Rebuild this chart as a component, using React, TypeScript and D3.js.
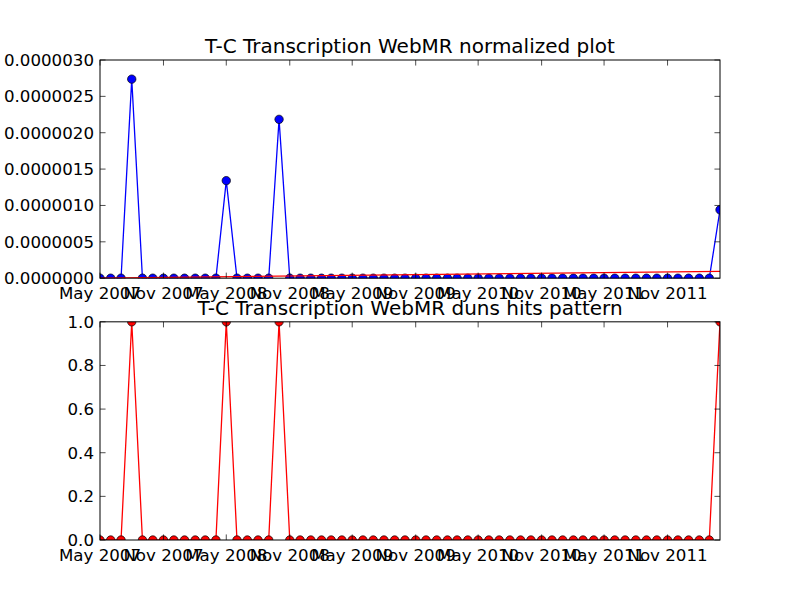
import * as d3 from "d3";

// monthly samples, May 2007 .. Apr 2012
const months = [
  "2007-05", "2007-06", "2007-07", "2007-08", "2007-09", "2007-10", "2007-11", "2007-12",
  "2008-01", "2008-02", "2008-03", "2008-04", "2008-05", "2008-06", "2008-07", "2008-08",
  "2008-09", "2008-10", "2008-11", "2008-12", "2009-01", "2009-02", "2009-03", "2009-04",
  "2009-05", "2009-06", "2009-07", "2009-08", "2009-09", "2009-10", "2009-11", "2009-12",
  "2010-01", "2010-02", "2010-03", "2010-04", "2010-05", "2010-06", "2010-07", "2010-08",
  "2010-09", "2010-10", "2010-11", "2010-12", "2011-01", "2011-02", "2011-03", "2011-04",
  "2011-05", "2011-06", "2011-07", "2011-08", "2011-09", "2011-10", "2011-11", "2011-12",
  "2012-01", "2012-02", "2012-03", "2012-04",
];

const normalized = [
  0, 0, 0, 0.000002737, 0, 0, 0, 0,
  0, 0, 0, 0, 0.000001341, 0, 0, 0,
  0, 0.000002184, 0, 0, 0, 0, 0, 0,
  0, 0, 0, 0, 0, 0, 0, 0,
  0, 0, 0, 0, 0, 0, 0, 0,
  0, 0, 0, 0, 0, 0, 0, 0,
  0, 0, 0, 0, 0, 0, 0, 0,
  0, 0, 0, 0.00000094,
];

const hits = [
  0, 0, 0, 1, 0, 0, 0, 0,
  0, 0, 0, 0, 1, 0, 0, 0,
  0, 1, 0, 0, 0, 0, 0, 0,
  0, 0, 0, 0, 0, 0, 0, 0,
  0, 0, 0, 0, 0, 0, 0, 0,
  0, 0, 0, 0, 0, 0, 0, 0,
  0, 0, 0, 0, 0, 0, 0, 0,
  0, 0, 0, 1,
];

// red trend line in the upper plot (first and last month)
const trendMonths = ["2007-05", "2012-04"];
const trendValues = [0.000000002, 0.000000094];

const xTickMonths = [
  "2007-05", "2007-11", "2008-05", "2008-11", "2009-05",
  "2009-11", "2010-05", "2010-11", "2011-05", "2011-11",
];
const normTicks = [0, 0.0000005, 0.000001, 0.0000015, 0.000002, 0.0000025, 0.000003];
const hitTicks = [0, 0.2, 0.4, 0.6, 0.8, 1.0];

const titles = [
  "T-C Transcription WebMR normalized plot",
  "T-C Transcription WebMR duns hits pattern",
];

const parse = d3.timeParse("%Y-%m");
const fmtMonth = d3.timeFormat("%b %Y");
const font = "'DejaVu Sans', sans-serif";

const W = 800, H = 600;
const left = 100, right = 720;
const axH = 480 / 2.2;
const tops = [60, 60 + axH * 1.2];

function Panel({ top, title, values, yDomain, yTicks, yFmt, color, id, trend }: {
  top: number; title: string; values: number[]; yDomain: [number, number];
  yTicks: number[]; yFmt: (v: number) => string; color: string; id: string; trend?: boolean;
}) {
  const bottom = top + axH;
  const x = d3.scaleTime()
    .domain([parse(months[0])!, parse(months[months.length - 1])!])
    .range([left, right]);
  const y = d3.scaleLinear().domain(yDomain).range([bottom, top]);
  const pts = months.map((m, i) => ({ d: parse(m)!, v: values[i] }));
  const line = d3.line<{ d: Date; v: number }>().x(p => x(p.d)).y(p => y(p.v));
  const trendPts = trendMonths.map((m, i) => ({ d: parse(m)!, v: trendValues[i] }));
  const tl = 5.56;

  return (
    <g>
      <defs>
        <clipPath id={id}>
          <rect x={left} y={top} width={right - left} height={axH} />
        </clipPath>
      </defs>
      <rect x={left} y={top} width={right - left} height={axH} fill="#fff" />
      <g clipPath={`url(#${id})`}>
        <path d={line(pts)!} fill="none" stroke={color} strokeWidth={1.3} />
        {pts.map((p, i) => (
          <circle key={i} cx={x(p.d)} cy={y(p.v)} r={4.2} fill={color} stroke="#000" strokeWidth={0.7} />
        ))}
        {trend && <path d={line(trendPts)!} fill="none" stroke="#ff0000" strokeWidth={1.3} />}
      </g>
      {xTickMonths.map(m => {
        const xv = x(parse(m)!);
        return (
          <g key={m}>
            <line x1={xv} x2={xv} y1={bottom} y2={bottom - tl} stroke="#000" strokeWidth={0.7} />
            <line x1={xv} x2={xv} y1={top} y2={top + tl} stroke="#000" strokeWidth={0.7} />
            <text x={xv} y={bottom + 21} textAnchor="middle" fontFamily={font} fontSize={16.67}>
              {fmtMonth(parse(m)!)}
            </text>
          </g>
        );
      })}
      {yTicks.map(t => (
        <g key={t}>
          <line x1={left} x2={left + tl} y1={y(t)} y2={y(t)} stroke="#000" strokeWidth={0.7} />
          <line x1={right} x2={right - tl} y1={y(t)} y2={y(t)} stroke="#000" strokeWidth={0.7} />
          <text x={94} y={y(t)} dy="0.35em" textAnchor="end" fontFamily={font} fontSize={16.67}>
            {yFmt(t)}
          </text>
        </g>
      ))}
      <rect x={left} y={top} width={right - left} height={axH} fill="none" stroke="#000" strokeWidth={1} />
      <text x={(left + right) / 2} y={top - 7} textAnchor="middle" fontFamily={font} fontSize={20}>
        {title}
      </text>
    </g>
  );
}

export default function App() {
  return (
    <svg width={W} height={H} style={{ position: "absolute", left: 0, top: 0, background: "#fff" }}>
      <rect width={W} height={H} fill="#fff" />
      <Panel top={tops[0]} title={titles[0]} values={normalized} yDomain={[0, 0.000003]}
        yTicks={normTicks} yFmt={d3.format(".7f")} color="#0000ff" id="clipTop" trend />
      <Panel top={tops[1]} title={titles[1]} values={hits} yDomain={[0, 1]}
        yTicks={hitTicks} yFmt={d3.format(".1f")} color="#ff0000" id="clipBottom" />
    </svg>
  );
}
